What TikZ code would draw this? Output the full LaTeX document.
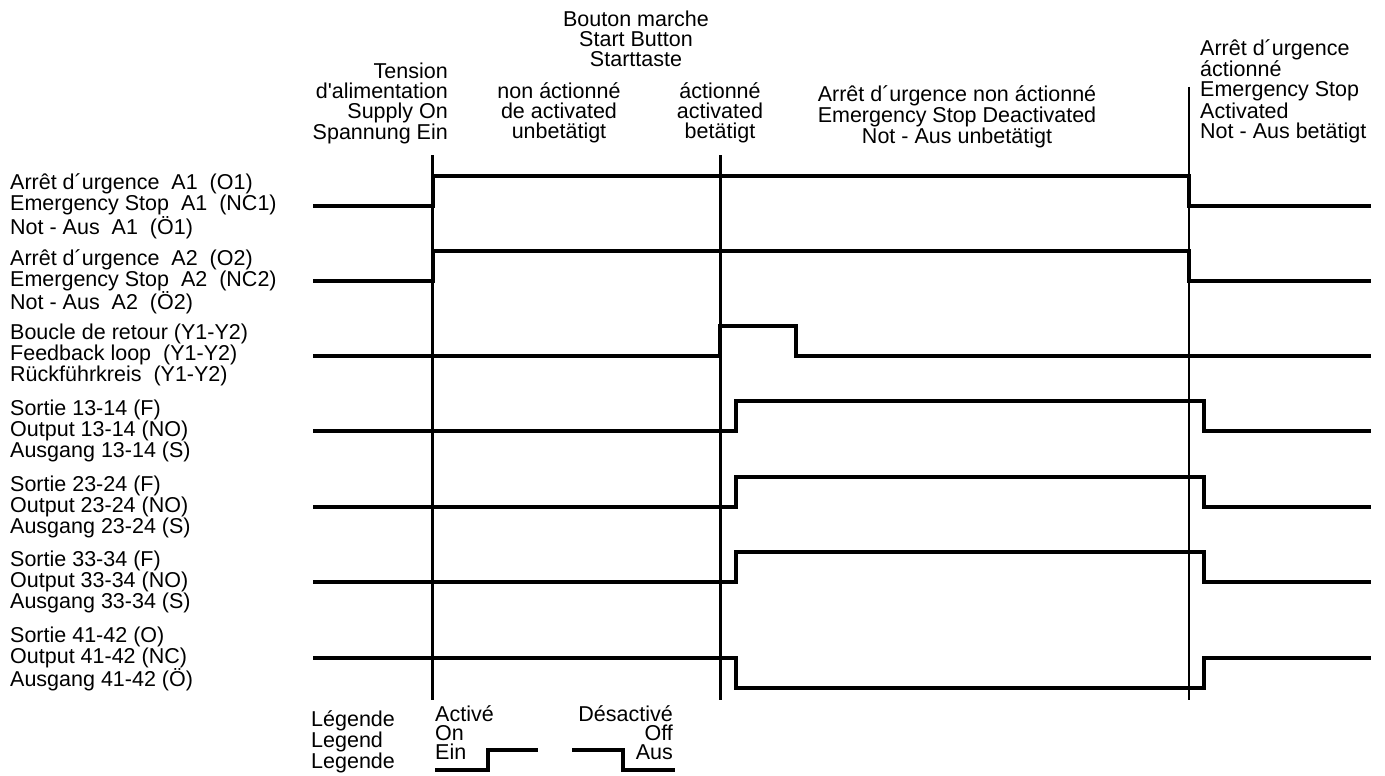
\documentclass[tikz,border=0pt]{standalone}
\usepackage{fontspec}
\setmainfont{Liberation Sans}[Ligatures=TeXOff]
\newcommand{\fl}{\rule{0pt}{17pt}}
\begin{document}
\begin{tikzpicture}[x=1pt,y=-1pt,
  sig/.style={line width=4pt, line join=miter},
  vline/.style={line width=2.2pt},
  lbl/.style={anchor=north west, align=left, inner sep=0pt, font=\fontsize{21.5pt}{18.5pt}\selectfont},
  hdr/.style={inner sep=0pt, font=\fontsize{21.5pt}{20pt}\selectfont},
  leg/.style={inner sep=0pt, font=\fontsize{21.5pt}{19pt}\selectfont}]
\useasboundingbox (0,0) rectangle (1385,776);

% header texts
\node[hdr, anchor=north, align=center] (start) at (636,9) {\fl Bouton marche\\Start Button\\Starttaste};
\node[hdr, anchor=north east, align=right] (supply) at (448,61) {\fl Tension\\d'alimentation\\Supply On\\Spannung Ein};
\node[hdr, anchor=north, align=center] (notact) at (559,81) {\fl non áctionné\\de activated\\unbetätigt};
\node[hdr, anchor=north, align=center] (act) at (720,81) {\fl áctionné\\activated\\betätigt};
\node[hdr, anchor=north, align=center] (esoff) at (957,84) {\fl Arrêt d´urgence non áctionné\\Emergency Stop Deactivated\\Not - Aus unbetätigt};
\node[hdr, anchor=north west, align=left] (eson) at (1200,38.5) {\fl Arrêt d´urgence\\áctionné\\Emergency Stop\\Activated\\Not - Aus betätigt};

% left labels
\node[lbl] (l1) at (10,172.5) {\fl Arrêt d´urgence\ \ A1\ \ (O1)\\Emergency Stop\ \ A1\ \ (NC1)\\Not - Aus\ \ A1\ \ (Ö1)};
\node[lbl] (l2) at (10,248) {\fl Arrêt d´urgence\ \ A2\ \ (O2)\\Emergency Stop\ \ A2\ \ (NC2)\\Not - Aus\ \ A2\ \ (Ö2)};
\node[lbl] (l3) at (10,322.5) {\fl Boucle de retour (Y1-Y2)\\Feedback loop\ \ (Y1-Y2)\\Rückführkreis\ \ (Y1-Y2)};
\node[lbl] (l4) at (10,398) {\fl Sortie 13-14 (F)\\Output 13-14 (NO)\\Ausgang 13-14 (S)};
\node[lbl] (l5) at (10,474) {\fl Sortie 23-24 (F)\\Output 23-24 (NO)\\Ausgang 23-24 (S)};
\node[lbl] (l6) at (10,549) {\fl Sortie 33-34 (F)\\Output 33-34 (NO)\\Ausgang 33-34 (S)};
\node[lbl] (l7) at (10,625) {\fl Sortie 41-42 (O)\\Output 41-42 (NC)\\Ausgang 41-42 (Ö)};

% signals
\draw[sig] (313,205.5) -- (433,205.5) -- (433,175.5) -- (1189,175.5) -- (1189,205.5) -- (1371,205.5);
\draw[sig] (313,281) -- (433,281) -- (433,251) -- (1189,251) -- (1189,281) -- (1371,281);
\draw[sig] (313,355.5) -- (720,355.5) -- (720,325.5) -- (796,325.5) -- (796,355.5) -- (1371,355.5);
\draw[sig] (313,431) -- (736,431) -- (736,401) -- (1204,401) -- (1204,431) -- (1371,431);
\draw[sig] (313,507) -- (736,507) -- (736,477) -- (1204,477) -- (1204,507) -- (1371,507);
\draw[sig] (313,582) -- (736,582) -- (736,552) -- (1204,552) -- (1204,582) -- (1371,582);
\draw[sig] (313,658) -- (736,658) -- (736,688) -- (1204,688) -- (1204,658) -- (1371,658);

% vertical event lines
\draw[vline] (432.5,155) -- (432.5,700);
\draw[vline] (720.5,155) -- (720.5,700);
\draw[vline] (1189,87) -- (1189,700);

% legend
\node[leg, anchor=north west, align=left] (legend) at (311,709) {\fl Légende\\Legend\\Legende};
\node[leg, anchor=north west, align=left] (on) at (435,704) {\fl Activé\\On\\Ein};
\node[leg, anchor=north east, align=right] (off) at (673,704) {\fl Désactivé\\Off\\Aus};
\draw[sig] (435,770) -- (488,770) -- (488,750) -- (538,750);
\draw[sig] (572,750) -- (623,750) -- (623,770) -- (675,770);
\end{tikzpicture}
\end{document}
